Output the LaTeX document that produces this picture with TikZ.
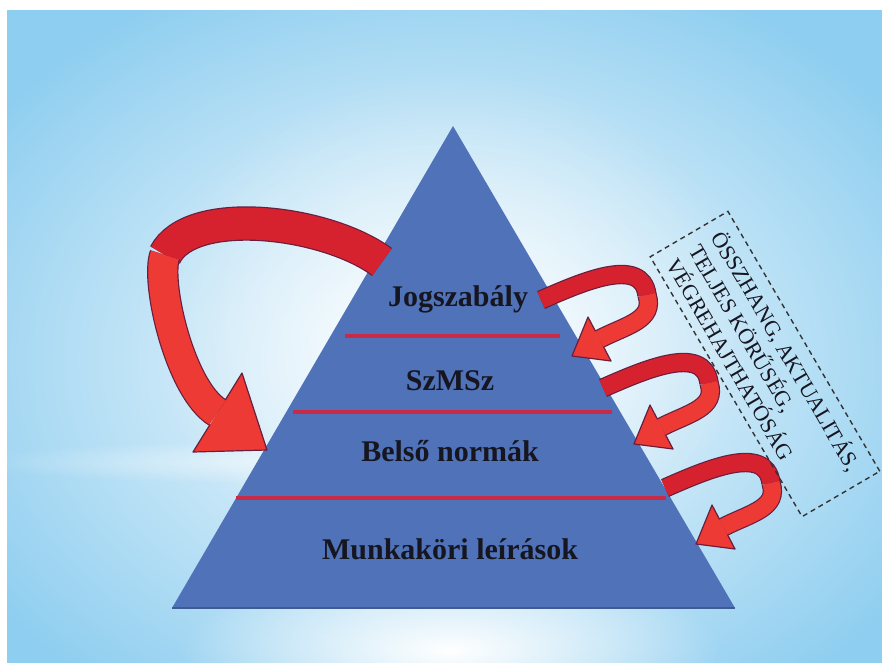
\documentclass[tikz,border=0pt]{standalone}
\usepackage{fontspec}
\setmainfont{Liberation Serif}
\usetikzlibrary{fadings}
\definecolor{skyblue}{RGB}{142,206,240}
\definecolor{pyrblue}{RGB}{80,114,185}
\definecolor{divred}{RGB}{200,42,72}
\definecolor{arrlight}{RGB}{238,58,52}
\definecolor{arrdark}{RGB}{214,34,46}
\definecolor{arrrim}{RGB}{105,30,62}
\definecolor{labelink}{RGB}{22,22,32}
\tikzfading[name=glow, inner color=transparent!0, outer color=transparent!100]
\begin{document}
\begin{tikzpicture}[x=0.5pt,y=-0.5pt,
	level/.style={font=\fontsize{15}{18}\selectfont\bfseries,text=labelink,anchor=base},
	divider/.style={divred,line width=1.6pt},
	ribbon/.style={draw=arrrim,line width=0.6pt,double distance=#1},
	tipline/.style={draw=arrrim,line width=0.6pt,line join=round},
	notebox/.style={draw=black!80,dash pattern=on 2.5pt off 2pt,line width=0.7pt,rotate=-59.7,
		minimum width=150.5pt,minimum height=45pt,align=left,inner sep=0pt,
		font=\fontsize{11}{13.2}\selectfont,text=labelink}]
	\useasboundingbox (0,0) rectangle (882,663);
	%BACKGROUND
	\fill[white] (0,0) rectangle (882,663);
	\begin{scope}
		\clip (7,10) rectangle (882,663);
		\fill[skyblue] (7,10) rectangle (882,663);
		\fill[white,path fading=glow] (445,360) ellipse (560 and 420);
		\fill[white,path fading=glow,opacity=.6] (450,330) ellipse (300 and 260);
		\fill[white,path fading=glow] (450,650) ellipse (270 and 85);
		\fill[white,path fading=glow,opacity=.5] (300,462) ellipse (330 and 22);
	\end{scope}
	%PYRAMID
	\coordinate (apex) at (453,126);
	\coordinate (bl) at (172,608);
	\coordinate (br) at (735,608);
	\fill[pyrblue] (apex) -- (br) -- (bl) -- cycle;
	\draw[pyrblue!80!black,line width=0.8pt] (bl) -- (br);
	\draw[divider] (345,336) -- (560,336);
	\draw[divider] (293,412) -- (612,412);
	\draw[divider] (236,498) -- (666,498);
	\node[level] (jog) at (458,306) {Jogszabály};
	\node[level] (szmsz) at (450,390) {SzMSz};
	\node[level] (belso) at (450,461) {Belső normák};
	\node[level] (munka) at (450,559) {Munkaköri leírások};
	%BIG ARROW
	\fill[arrlight] (224.9,400.6) -- (242,373) -- (267,450) -- (193,452) -- (210.1,424.4) -- cycle;
	\draw[tipline] (224.9,400.6) -- (242,373) -- (267,450) -- (193,452) -- (210.1,424.4);
	\draw[ribbon=16pt,double=arrdark] (382,262) .. controls (325,220) and (190,205) .. (165,255);
	\draw[ribbon=14.5pt,double=arrlight] (165,255) .. controls (155,280) and (179.3,388.8) .. (217.5,412.5);
	%SMALL ARROWS
	\foreach \dx/\dy in {0/0,62/88,124/188}{
		\begin{scope}[shift={(\dx,\dy)}]
			\fill[arrlight] (595.6,331.5) -- (588,317) -- (572,356) -- (611,361) -- (603.4,346.5) -- cycle;
			\draw[tipline] (595.6,331.5) -- (588,317) -- (572,356) -- (611,361) -- (603.4,346.5);
			\draw[ribbon=8.5pt,double=arrdark] (541,300) .. controls (580,283) and (642,255) .. (647,295);
			\draw[ribbon=8.5pt,double=arrlight] (647,295) .. controls (655,320) and (627,325) .. (599.5,339);
		\end{scope}
	}
	%NOTE
	\node[notebox] (note) at (765,364) {ÖSSZHANG, AKTUALITÁS,\\TELJES KÖRŰSÉG,\\VÉGREHAJTHATÓSÁG};
\end{tikzpicture}
\end{document}
